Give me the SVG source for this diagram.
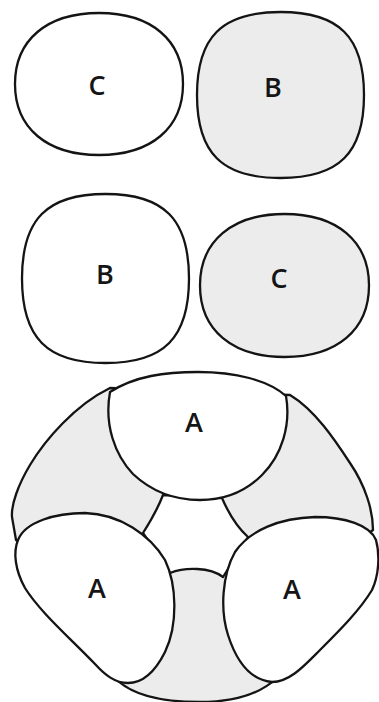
<svg xmlns="http://www.w3.org/2000/svg" width="379" height="702" viewBox="0 0 379 702">
<style>
.s{stroke:#141414;stroke-width:2.3;stroke-linejoin:round}
.w{fill:#fff}
.g{fill:#ececec}
.t{font-family:"Open Sans","DejaVu Sans",sans-serif;font-size:27px;font-weight:600;fill:#151515;text-anchor:middle}
</style>
<rect width="379" height="702" fill="#fff"/>
<g id="c-top">
<path class="s w" d="M 15 84 C 15 40 46.9 13 99 13 C 151.1 13 183 40 183 84 C 183 128 151.1 155 99 155 C 46.9 155 15 128 15 84 Z"/>
<text class="t" x="97" y="95">C</text>
</g>
<g id="b-top">
<path class="s g" d="M 197 95 C 197 36.9 222 12 280.5 12 C 339 12 364 36.9 364 95 C 364 153.1 339 178 280.5 178 C 222 178 197 153.1 197 95 Z"/>
<text class="t" x="273" y="97">B</text>
</g>
<g id="b-mid">
<path class="s w" d="M 22 278.5 C 22 219.3 47 194 105.5 194 C 164 194 189 219.3 189 278.5 C 189 337.7 164 363 105.5 363 C 47 363 22 337.7 22 278.5 Z"/>
<text class="t" x="105" y="284">B</text>
</g>
<g id="c-mid">
<path class="s g" d="M 200 285.5 C 200 241.2 232.1 214 284.5 214 C 336.9 214 369 241.2 369 285.5 C 369 329.8 336.9 357 284.5 357 C 232.1 357 200 329.8 200 285.5 Z"/>
<text class="t" x="279" y="288">C</text>
</g>
<g id="cluster">
<path id="outer" class="s g" d="M 110 388 C 75 405 45 440 30 465 C 18 485 11 505 12 517 L 16 540 L 100 600 L 115 678 C 132 696 165 702 200 702 C 240 702 262 692 277 678 L 280 600 L 373 530 C 373 510 365 485 350 463 C 335 440 315 410 290 395 Z"/>
<path id="center" class="s w" d="M 163 495 C 158 508 150 522 143 533 L 170 573 C 185 567 210 567 223 577 L 248 537 C 238 528 228 512 222 498 Z"/>
<g id="a-top">
<path class="s w" d="M 110 392 C 135 376 165 372 198 372 C 235 372 268 380 286 396 C 291 425 282 455 262 475 C 245 492 225 500 200 500 C 172 500 150 490 133 474 C 115 455 104 425 110 392 Z"/>
<text class="t" x="194" y="432">A</text>
</g>
<g id="a-left">
<path class="s w" d="M 18 540 C 25 522 55 513 85 513 C 120 514 150 535 165 560 C 177 585 178 625 165 652 C 155 672 143 683 128 683 C 115 683 105 675 95 664 C 70 638 40 612 25 588 C 15 570 13 552 18 540 Z"/>
<text class="t" x="97" y="598">A</text>
</g>
<g id="a-right">
<path class="s w" d="M 376 540 C 370 525 345 517 315 517 C 280 518 250 530 235 552 C 222 575 220 610 228 635 C 236 660 250 680 272 682 C 290 682 305 665 320 650 C 340 630 360 610 372 590 C 379 575 380 555 376 540 Z"/>
<text class="t" x="292" y="599">A</text>
</g>
</g>
</svg>
